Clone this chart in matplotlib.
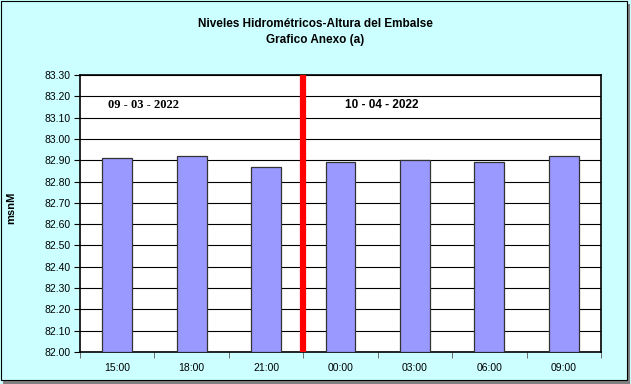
import matplotlib.pyplot as plt
from matplotlib.patches import Rectangle

horas = ['15:00', '18:00', '21:00', '00:00', '03:00', '06:00', '09:00']
alturas = [82.91, 82.92, 82.87, 82.89, 82.90, 82.89, 82.92]
y_ticks = [82.00 + 0.10 * i for i in range(14)]
fecha_1 = '09 - 03 - 2022'
fecha_2 = '10 - 04 - 2022'

plt.rcParams['font.family'] = ['Liberation Sans', 'DejaVu Sans']

fig = plt.figure(figsize=(6.31, 3.84), dpi=100)
fig.patch.set_facecolor('#ccffff')

# marco con sombra
fig.patches.append(Rectangle((3 / 631, 0), 627 / 631, 1 - 4 / 384, transform=fig.transFigure,
                             facecolor='#808080', edgecolor='none', zorder=-2))
fig.patches.append(Rectangle((0.5 / 631, 4 / 384), 626 / 631, 1 - 4.5 / 384, transform=fig.transFigure,
                             facecolor='#ccffff', edgecolor='black', linewidth=0.8, zorder=-1))

ax = fig.add_axes([80 / 631, 1 - 352 / 384, 521 / 631, 277 / 384])
ax.set_facecolor('white')

x = list(range(len(horas)))
ax.bar(x, [a - 82.0 for a in alturas], bottom=82.0, width=0.4,
       color='#9999ff', edgecolor='#333333', linewidth=0.9, zorder=3)

ax.set_xlim(-0.5, len(horas) - 0.5)
ax.set_ylim(82.0, 83.3)
ax.set_yticks(y_ticks)
ax.set_yticklabels([f'{v:.2f}' for v in y_ticks], fontsize=7.5)
ax.yaxis.grid(True, color='black', linewidth=0.8, zorder=1)
ax.set_axisbelow(True)

ax.set_xticks(x)
ax.set_xticklabels(horas, fontsize=7.5)
ax.set_xticks([i - 0.5 for i in range(len(horas) + 1)], minor=True)
ax.tick_params(axis='x', which='major', length=0, pad=8)
ax.tick_params(axis='x', which='minor', length=4, direction='out', color='#555555')
ax.tick_params(axis='y', length=4, direction='out', pad=3)

for s in ['left', 'top', 'right', 'bottom']:
    ax.spines[s].set_linewidth(1.2)
    ax.spines[s].set_color('black')

ax.axvline(2.5, color='red', linewidth=4.5, zorder=4)

ax.text(0.35, 83.16, fecha_1, fontsize=9, fontweight='bold', ha='center', va='center',
        family=['Liberation Serif', 'DejaVu Serif'], zorder=5)
ax.text(3.55, 83.16, fecha_2, fontsize=8.5, fontweight='bold', ha='center', va='center', zorder=5)

ax.set_ylabel('msnM', fontsize=8, fontweight='bold', labelpad=0)
ax.yaxis.set_label_coords(-0.122, 0.52)

fig.text(0.5, 1 - 24 / 384, 'Niveles Hidrométricos-Altura del Embalse', ha='center', va='center',
         fontsize=8.5, fontweight='bold')
fig.text(0.5, 1 - 40 / 384, 'Grafico Anexo (a)', ha='center', va='center',
         fontsize=8.5, fontweight='bold')

fig.savefig('out.png', dpi=100, facecolor=fig.get_facecolor())
